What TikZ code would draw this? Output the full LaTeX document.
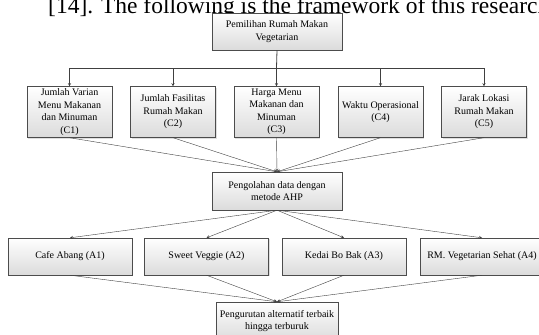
\documentclass[tikz,border=0pt]{standalone}
\usepackage{fontspec}
\setmainfont{Liberation Serif}
\usepackage{tikz}
\usetikzlibrary{shadows}

\tikzset{
  box/.style={draw=black!70, top color=white, bottom color=black!14, align=center,
    inner sep=1pt, font=\fontsize{10}{12.5}\selectfont,
    drop shadow={shadow xshift=1pt, shadow yshift=-1pt, opacity=0.25}},
  arr/.style={draw=black!75, ->, >=stealth}
}

\begin{document}
\begin{tikzpicture}[x=1pt, y=-1pt]
                \clip (0,0) rectangle (539,335);
                \node (head) [anchor=base west, inner sep=0pt, font=\fontsize{23.5}{28}\selectfont] at (48,13.5) {[14]. The following is the framework of this research};

                \node (top) [box, minimum width=130pt, minimum height=37pt] at (277,31.5) {Pemilihan Rumah Makan\\Vegetarian};

                \node (c1) [box, minimum width=85pt, minimum height=51pt] at (69.5,112) {Jumlah Varian\\Menu Makanan\\dan Minuman\\(C1)};
                \node (c2) [box, minimum width=85pt, minimum height=51pt] at (173,112) {Jumlah Fasilitas\\Rumah Makan\\(C2)};
                \node (c3) [box, minimum width=85pt, minimum height=51pt] at (276.5,112) {Harga Menu\\Makanan dan\\Minuman\\(C3)};
                \node (c4) [box, minimum width=85pt, minimum height=51pt] at (380.5,112) {Waktu Operasional\\(C4)};
                \node (c5) [box, minimum width=85pt, minimum height=51pt] at (484,112) {Jarak Lokasi\\Rumah Makan\\(C5)};

                \node (peng) [box, minimum width=130pt, minimum height=38pt] at (277,191) {Pengolahan data dengan\\metode AHP};

                \node (a1) [box, minimum width=124pt, minimum height=37pt] at (70,256.5) {Cafe Abang (A1)};
                \node (a2) [box, minimum width=124pt, minimum height=37pt] at (206.5,256.5) {Sweet Veggie (A2)};
                \node (a3) [box, minimum width=124pt, minimum height=37pt] at (344,256.5) {Kedai Bo Bak (A3)};
                \node (a4) [box, minimum width=124pt, minimum height=37pt] at (482,256.5) {RM. Vegetarian Sehat (A4)};

                \node (rank) [box, minimum width=122pt, minimum height=38pt] at (277,321) {Pengurutan alternatif terbaik\\hingga terburuk};

                \coordinate (bus) at (276.5,68);
                \draw[draw=black!75, thick] (top.south) -- (bus);
                \draw[arr] (bus) -| (c1.north);
                \draw[arr] (bus) -| (c2.north);
                \draw[arr] (bus) -- (c3.north);
                \draw[arr] (bus) -| (c4.north);
                \draw[arr] (bus) -| (c5.north);

                \draw[arr] (c1.south) -- (peng.north);
                \draw[arr] (c2.south) -- (peng.north);
                \draw[arr] (c3.south) -- (peng.north);
                \draw[arr] (c4.south) -- (peng.north);
                \draw[arr] (c5.south) -- (peng.north);

                \draw[arr] (peng.south) -- (a1.north);
                \draw[arr] (peng.south) -- (a2.north);
                \draw[arr] (peng.south) -- (a3.north);
                \draw[arr] (peng.south) -- (a4.north);

                \draw[arr] (a1.south) -- (rank.north);
                \draw[arr] (a2.south) -- (rank.north);
                \draw[arr] (a3.south) -- (rank.north);
                \draw[arr] (a4.south) -- (rank.north);
            \end{tikzpicture}
\end{document}
